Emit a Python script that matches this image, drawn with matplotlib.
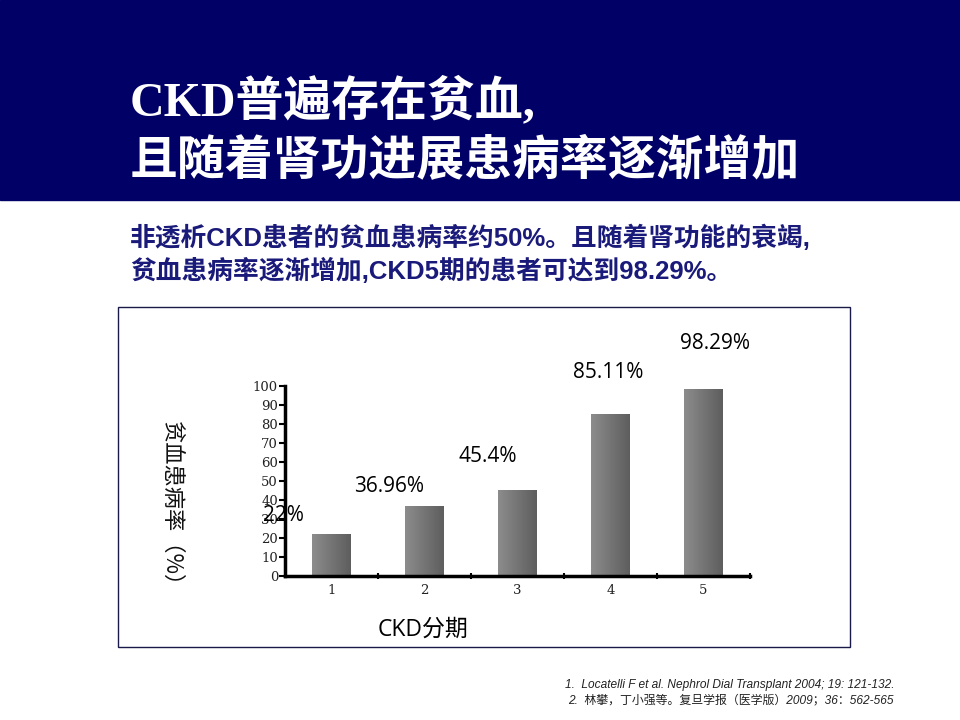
import numpy as np
import matplotlib; matplotlib.use('Agg')
import matplotlib.pyplot as plt
from matplotlib.patches import Rectangle
from matplotlib.colors import LinearSegmentedColormap

plt.rcParams['font.family'] = ['Liberation Sans', 'Noto Sans CJK SC']

# data
stages = [1, 2, 3, 4, 5]
stage_labels = ['1', '2', '3', '4', '5']
prevalence = [22.0, 36.96, 45.4, 85.11, 98.29]
value_labels = ['22%', '36.96%', '45.4%', '85.11%', '98.29%']
yticks = list(range(0, 101, 10))

title_lines = ['CKD普遍存在贫血,', '且随着肾功进展患病率逐渐增加']
subtitle_lines = ['非透析CKD患者的贫血患病率约50%。且随着肾功能的衰竭,',
                  '贫血患病率逐渐增加,CKD5期的患者可达到98.29%。']
refs = ['1.  Locatelli F et al. Nephrol Dial Transplant 2004; 19: 121-132.',
        '2.  林攀，丁小强等。复旦学报（医学版）2009；36：562-565']

# label placement (data coords of left edge / centre height)
label_pos = [(0.26, 32), (1.24, 47), (2.37, 63), (3.60, 107), (4.75, 122.5)]

NAVY = '#000066'
fig = plt.figure(figsize=(9.6, 7.2), dpi=100)
W, H = 960, 720

# header band
fig.patches.append(Rectangle((0, 1 - 200 / H), 1, 200 / H, transform=fig.transFigure,
                             color=NAVY, zorder=0))
for i, t in enumerate(title_lines):
    fig.text(130 / W, 1 - (101 + 60 * i) / H, t, color='white', fontsize=34.5,
             fontweight='bold', va='center', ha='left',
             family=['Liberation Serif', 'Noto Sans CJK SC'])
for i, t in enumerate(subtitle_lines):
    fig.text(130 / W, 1 - (238 + 33 * i) / H, t, color='#1a1a7a', fontsize=18.5,
             fontweight='bold', va='center', ha='left')

# chart frame
fig.patches.append(Rectangle((118 / W, 1 - 647 / H), (850 - 118) / W, (647 - 307) / H,
                             transform=fig.transFigure, fill=False,
                             edgecolor='#1a1a4a', lw=1))

ax = fig.add_axes([285 / W, 1 - 576 / H, (750 - 285) / W, (576 - 386) / H])
bars = ax.bar(stages, prevalence, width=0.41, color='#777777', zorder=2)
cmap = LinearSegmentedColormap.from_list('g', ['#8c8c8c', '#5e5e5e'])
grad = np.linspace(0, 1, 64).reshape(1, -1)
for b in bars:
    x0, y0 = b.get_x(), b.get_y()
    im = ax.imshow(grad, cmap=cmap, aspect='auto', zorder=3,
                   extent=[x0, x0 + b.get_width(), y0, y0 + b.get_height()])
    im.set_clip_path(b)

ax.set_xlim(0.5, 5.5)
ax.set_ylim(0, 100)
for s in ['top', 'right']:
    ax.spines[s].set_visible(False)
for s in ['left', 'bottom']:
    ax.spines[s].set_linewidth(2.5)
    ax.spines[s].set_zorder(5)

ax.set_yticks(yticks)
ax.set_yticklabels([str(v) for v in yticks], family='DejaVu Serif', fontsize=9.5,
                   color='#222222')
ax.tick_params(axis='y', direction='out', length=4, width=1.5, pad=1)
ax.set_xticks(np.arange(1.5, 6, 1))
ax.set_xticklabels([])
ax.tick_params(axis='x', which='major', direction='inout', length=5, width=1.5)
ax.set_xticks(stages, minor=True)
ax.set_xticklabels(stage_labels, minor=True, family='DejaVu Serif', fontsize=9.5,
                   color='#222222')
ax.tick_params(axis='x', which='minor', length=0, pad=6)

for (lx, ly), lab in zip(label_pos, value_labels):
    ax.text(lx, ly, lab, fontsize=15, ha='left', va='center', family='Open Sans',
            clip_on=False, zorder=6)

fig.text(172 / W, 1 - 508 / H, '贫血患病率（%）', rotation=270, fontsize=16,
         ha='center', va='center', family=['Noto Sans CJK SC'], color='#111111')
fig.text(378 / W, 1 - 630 / H, 'CKD分期', fontsize=16.5, ha='left', va='center',
         family=['Open Sans', 'Noto Sans CJK SC'])

for i, r in enumerate(refs):
    fig.text((565 + 3 * i) / W, 1 - (685 + 15 * i) / H, r, fontsize=8.6, style='italic',
             ha='left', va='center', color='#222222')

fig.savefig('out.png', dpi=100)
